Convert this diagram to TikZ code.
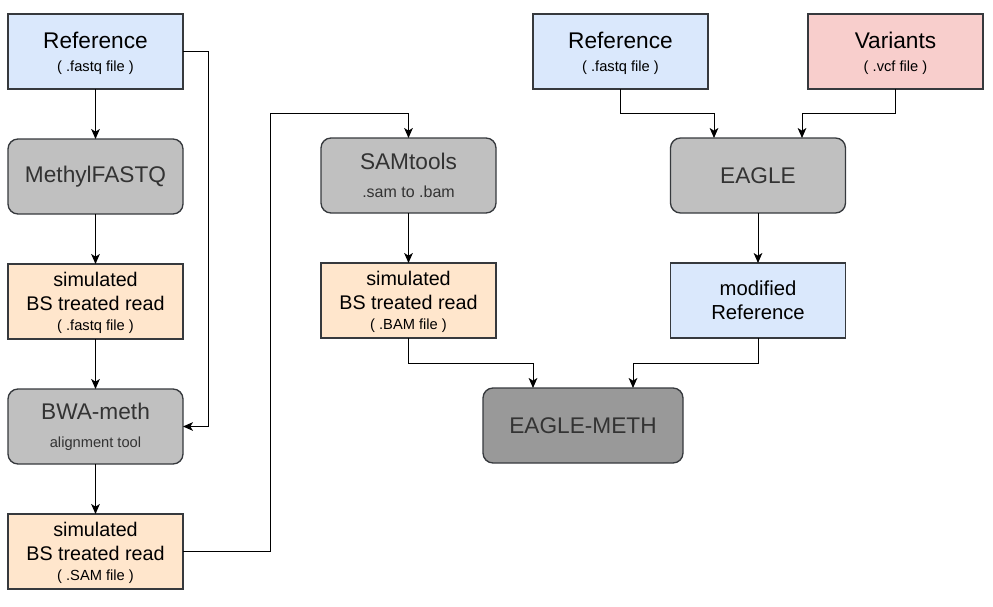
\documentclass[tikz,border=0pt]{standalone}
\usepackage{fontspec}
\setmainfont{Liberation Sans}
\usetikzlibrary{positioning,calc,arrows.meta}

\definecolor{blueish}{HTML}{DAE8FC}
\definecolor{orangeish}{HTML}{FFE6CC}
\definecolor{redish}{HTML}{F8CECC}
\definecolor{toolgray}{HTML}{C0C0C0}
\definecolor{darkgray}{HTML}{999999}
\definecolor{edgegray}{HTML}{36393D}

\newcommand{\subtxt}[1]{{\fontsize{11}{13}\selectfont #1}}
\newcommand{\topstrut}[1]{\rule{0pt}{#1}}

\begin{document}
\begin{tikzpicture}[
		x=0.75pt,y=-0.75pt,
		node distance=37.5pt and 37.5pt,
		filebox/.style={draw=edgegray,line width=1pt,outer sep=0pt,inner sep=1pt,minimum width=131.25pt,minimum height=56.25pt,align=center,font=\fontsize{17}{18}\selectfont},
		readbox/.style={filebox,fill=orangeish,font=\fontsize{14.8}{18}\selectfont},
		toolbox/.style={filebox,rounded corners=7.5pt,fill=toolgray,text=black!80},
		arr/.style={-{Stealth[length=7.5pt,width=6.5pt,inset=2pt]},line width=0.75pt}
		]
		\useasboundingbox (0,0) rectangle (993,607);
		% left column
		\node[filebox,fill=blueish] (refL) at (95.5,51.5) {\topstrut{15.2pt}Reference\\[-1pt]\subtxt{( .fastq file )}};
		\node[toolbox,below=of refL] (methyl) {MethylFASTQ};
		\node[readbox,below=of methyl] (simfq) {\topstrut{13.5pt}simulated\\BS treated read\\[-3pt]\subtxt{( .fastq file )}};
		\node[toolbox,below=of simfq] (bwa) {BWA-meth\\[3pt]\subtxt{alignment tool}};
		\node[readbox,below=of bwa] (simsam) {\topstrut{13.5pt}simulated\\BS treated read\\[-3pt]\subtxt{( .SAM file )}};
		% middle column
		\node[toolbox] (samtools) at (408.5,175.5) {SAMtools\\[3pt]{\fontsize{12}{14}\selectfont .sam to .bam}};
		\node[readbox,below=of samtools] (simbam) {\topstrut{13.5pt}simulated\\BS treated read\\[-3pt]\subtxt{( .BAM file )}};
		% right column
		\node[filebox,fill=blueish] (refR) at (620.5,51.5) {\topstrut{15.2pt}Reference\\[-1pt]\subtxt{( .fastq file )}};
		\node[filebox,fill=redish] (var) at (895.5,51.5) {\topstrut{15.2pt}Variants\\[-1pt]\subtxt{( .vcf file )}};
		\node[toolbox] (eagle) at (758,175.5) {EAGLE};
		\node[filebox,fill=blueish,below=of eagle,font=\fontsize{15.2}{18}\selectfont] (modref) {modified\\Reference};
		\node[toolbox,fill=darkgray,minimum width=150pt] (meth) at (583,425.5) {EAGLE-METH};
		% connectors
		\draw[arr] (refL) -- (methyl);
		\draw[arr] (methyl) -- (simfq);
		\draw[arr] (simfq) -- (bwa);
		\draw[arr] (bwa) -- (simsam);
		\draw[arr] (refL.east) -- ++(25,0) |- (bwa.east);
		\draw[arr] (simsam.east) -- ++(87,0) |- ($(samtools.north)+(0,-25)$) -- (samtools.north);
		\draw[arr] (samtools) -- (simbam);
		\draw[arr] (refR.south) -- ++(0,24.5) -| ([xshift=-33pt]eagle.north);
		\draw[arr] (var.south) -- ++(0,24.5) -| ([xshift=33pt]eagle.north);
		\draw[arr] (eagle) -- (modref);
		\draw[arr] (simbam.south) -- ++(0,25) -| ([xshift=-37.5pt]meth.north);
		\draw[arr] (modref.south) -- ++(0,25) -| ([xshift=37.5pt]meth.north);
	\end{tikzpicture}
\end{document}
